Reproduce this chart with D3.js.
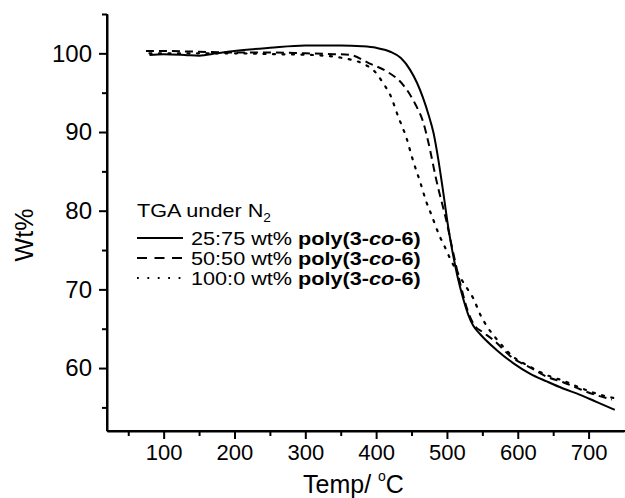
<!DOCTYPE html>
<html>
<head>
<meta charset="utf-8">
<script src="https://cdn.jsdelivr.net/npm/d3@7"></script>
<style>
  html, body { margin: 0; padding: 0; background: #fff; }
  svg { display: block; font-family: "Liberation Sans", Arial, sans-serif; }
</style>
</head>
<body>
<svg id="chart" width="625" height="498"></svg>
<script>
// ---- data ----
const tempSolid = [80, 100, 130, 150, 175, 200, 250, 300, 350, 380, 400, 420, 435, 448, 458, 466, 474, 481, 488, 495, 502, 508, 515, 523, 530, 537, 547, 570, 594, 617, 641, 664, 688, 711, 737];
const wtSolid   = [99.8, 99.9, 99.8, 99.7, 100.0, 100.3, 100.7, 101.0, 101.0, 100.9, 100.7, 100.2, 99.4, 97.9, 96.2, 94.4, 92.2, 89.9, 86.4, 82.2, 77.8, 74.7, 71.6, 68.8, 66.8, 65.4, 64.3, 62.3, 60.6, 59.3, 58.3, 57.4, 56.6, 55.7, 54.7];

const tempDash = [75, 100, 150, 200, 250, 300, 340, 363, 391, 415, 438, 455, 467, 474, 485, 500, 509, 520, 530, 540, 550, 565, 594, 617, 641, 664, 688, 713, 733];
const wtDash   = [100.3, 100.3, 100.2, 100.1, 100.1, 100.0, 99.9, 99.8, 98.7, 97.7, 96.0, 93.6, 91.1, 88.6, 83.9, 78.4, 74.6, 70.3, 67.1, 65.3, 64.6, 63.6, 61.2, 60.1, 58.9, 58.2, 57.3, 56.5, 56.0];

const tempDot = [80, 150, 200, 250, 307, 353, 381, 398, 410, 420, 431, 443, 452, 462, 471, 478, 490, 497, 504, 521, 530, 537, 547, 558, 570, 594, 617, 641, 664, 688, 713, 735];
const wtDot   = [100.0, 100.0, 100.0, 99.9, 99.8, 99.4, 98.7, 97.7, 96.2, 94.7, 92.0, 89.2, 86.4, 83.7, 81.1, 79.5, 76.7, 75.4, 74.0, 71.2, 69.9, 68.9, 66.8, 65.1, 63.7, 61.4, 60.2, 59.1, 58.4, 57.5, 56.7, 56.2];

const seriesNames = ["25:75 wt% ", "50:50 wt% ", "100:0 wt% "];
const xMajorTicks = [100, 200, 300, 400, 500, 600, 700];
const xMinorTicks = [50, 150, 250, 350, 450, 550, 650];
const yMajorTicks = [60, 70, 80, 90, 100];
const yMinorTicks = [55, 65, 75, 85, 95, 105];

// ---- layout ----
const svg = d3.select("#chart");
const padL = 107, padR = 624, padT = 14, padB = 431;
const x = d3.scaleLinear().domain([20, 750]).range([padL, padR]);
const y = d3.scaleLinear().domain([52, 105]).range([padB, padT]);

const series = [
  { t: tempSolid, w: wtSolid, dash: null, width: 2 },
  { t: tempDash,  w: wtDash,  dash: "8,5", width: 2 },
  { t: tempDot,   w: wtDot,   dash: "2,7.5", width: 2.2 }
];

const line = d3.line().x(d => x(d[0])).y(d => y(d[1])).curve(d3.curveMonotoneX);

series.forEach((s, k) => {
  const pts = s.t.map((t, i) => [t, s.w[i]]);
  svg.append("path")
    .attr("d", line(pts))
    .attr("fill", "none")
    .attr("stroke", "#000")
    .attr("stroke-width", s.width)
    .attr("stroke-dasharray", s.dash)
    .attr("stroke-linecap", k === 2 ? "round" : "butt");
});

// ---- axes ----
const xAxisMajor = d3.axisBottom(x).tickValues(xMajorTicks).tickSize(8).tickPadding(5).tickSizeOuter(0);
const xAxisMinor = d3.axisBottom(x).tickValues(xMinorTicks).tickSize(5).tickFormat("").tickSizeOuter(0);
const yAxisMajor = d3.axisLeft(y).tickValues(yMajorTicks).tickSize(8).tickPadding(7).tickSizeOuter(0);
const yAxisMinor = d3.axisLeft(y).tickValues(yMinorTicks).tickSize(5).tickFormat("").tickSizeOuter(0);

const gx = svg.append("g").attr("transform", `translate(0,${padB})`);
gx.call(xAxisMajor);
gx.append("g").call(xAxisMinor);
const gy = svg.append("g").attr("transform", `translate(${padL},0)`);
gy.call(yAxisMajor);
gy.append("g").call(yAxisMinor);

svg.selectAll(".domain").attr("stroke", "#000").attr("stroke-width", 2);
svg.selectAll(".tick line").attr("stroke", "#000").attr("stroke-width", 2);
gx.selectAll(".tick text").attr("font-size", 22).attr("fill", "#000").attr("font-family", "Liberation Sans, Arial, sans-serif");
gy.selectAll(".tick text").attr("font-size", 24).attr("fill", "#000").attr("font-family", "Liberation Sans, Arial, sans-serif");
gx.select(".domain").attr("d", `M${padL},0H625`);
gy.select(".domain").attr("d", `M0,${padT}V${padB}`);

// ---- axis titles ----
const xt = svg.append("text").attr("x", 303).attr("y", 493).attr("font-size", 25).attr("fill", "#000");
xt.append("tspan").text("Temp/ ");
xt.append("tspan").text("o").attr("font-size", 14).attr("dy", -12);
xt.append("tspan").text("C").attr("dy", 12);

svg.append("text")
  .attr("transform", "translate(33,235) rotate(-90)")
  .attr("text-anchor", "middle")
  .attr("font-size", 25)
  .attr("fill", "#000")
  .text("Wt%");

// ---- legend ----
const lg = svg.append("g");
const sx = 1.14;
const ttl = lg.append("text").attr("transform", `translate(137,217) scale(${sx},1)`).attr("font-size", 19).attr("fill", "#000");
ttl.append("tspan").text("TGA under N");
ttl.append("tspan").text("2").attr("font-size", 12).attr("dy", 5);

const rowY = [238, 258, 278];
const legendDash = [null, "10,7.5", "1.8,8.6"];
series.forEach((s, i) => {
  lg.append("line")
    .attr("x1", 137).attr("x2", 183)
    .attr("y1", rowY[i]).attr("y2", rowY[i])
    .attr("stroke", "#000")
    .attr("stroke-width", i === 2 ? 1.8 : 2)
    .attr("stroke-dasharray", legendDash[i]);
  const t = lg.append("text").attr("transform", `translate(191,${rowY[i] + 7}) scale(${sx},1)`).attr("font-size", 19).attr("fill", "#000");
  t.append("tspan").text(seriesNames[i]);
  t.append("tspan").text("poly(3-").attr("font-weight", "bold");
  t.append("tspan").text("co").attr("font-weight", "bold").attr("font-style", "italic");
  t.append("tspan").text("-6)").attr("font-weight", "bold");
});
</script>
</body>
</html>
